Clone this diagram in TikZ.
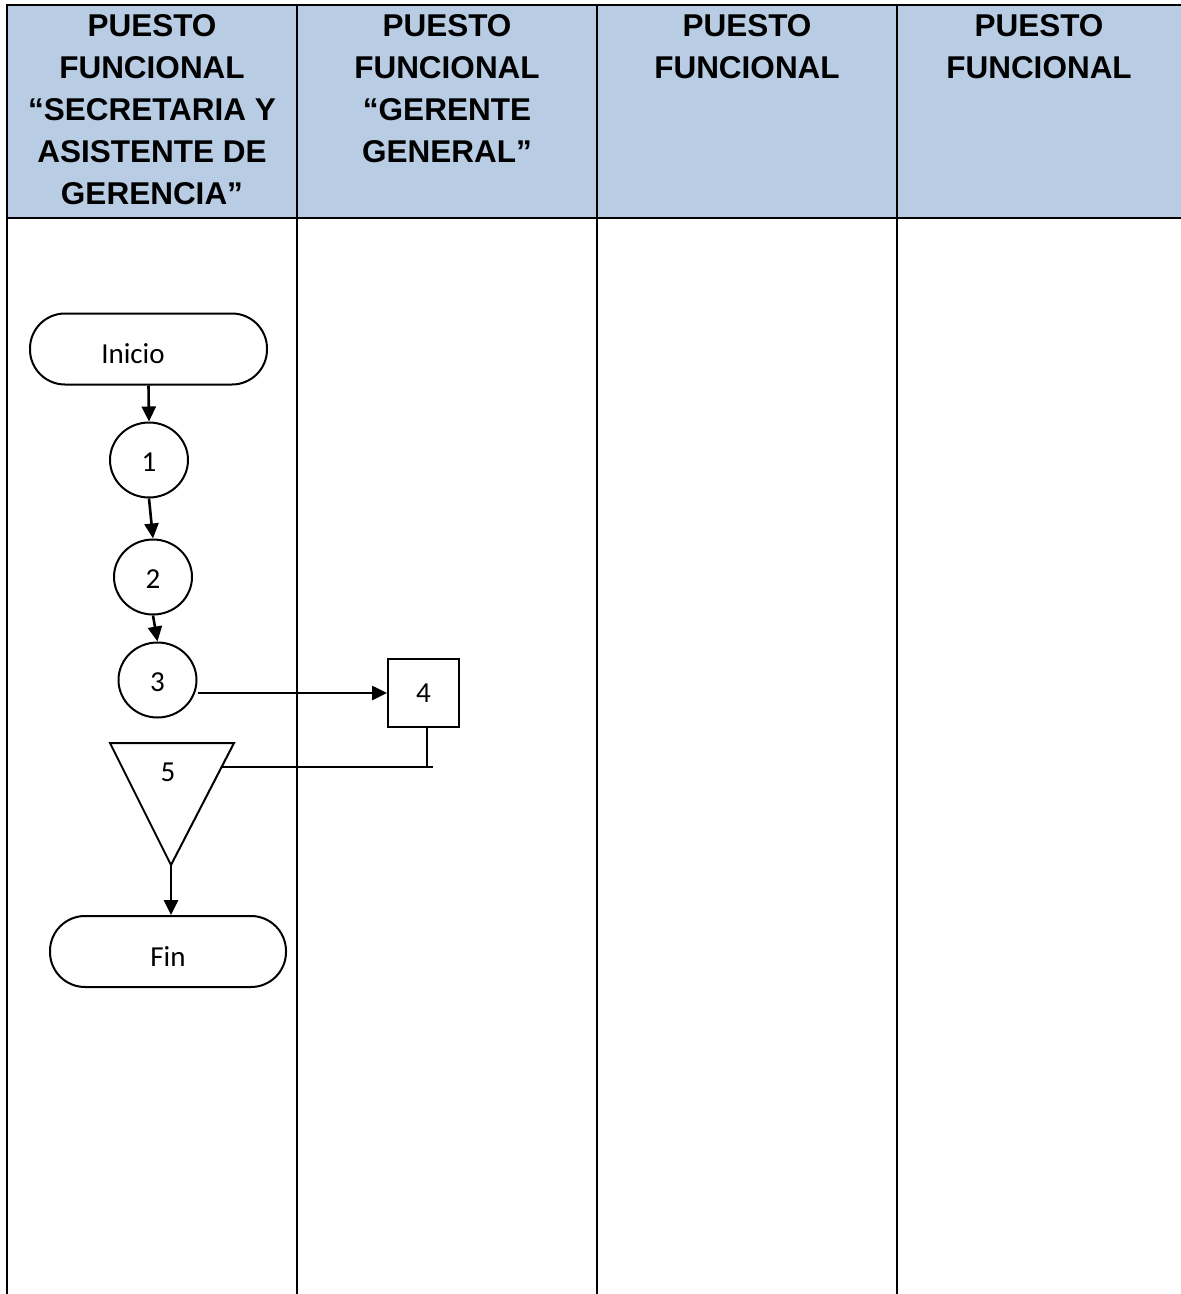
\documentclass[tikz,border=0pt]{standalone}
\usepackage{fontspec}
\setmainfont{Liberation Sans}
\newfontfamily\calfont{Carlito}
\usetikzlibrary{arrows.meta,shapes.geometric}
\definecolor{hdrblue}{RGB}{184,204,228}
\begin{document}
\begin{tikzpicture}[x=1pt,y=-1pt,
  tbl/.style={line width=2.8pt,black},
  hdr/.style={font=\fontsize{31.5}{42}\selectfont\bfseries,align=center,inner sep=0pt,anchor=north},
  shp/.style={draw,line width=2pt,font=\calfont\fontsize{29}{34}\selectfont},
  term/.style={shp,rectangle,rounded corners=35pt,minimum width=237pt,minimum height=71pt,text height=29pt,text depth=0pt},
  circ/.style={shp,ellipse,minimum width=78pt,minimum height=75pt,inner sep=0pt,text height=23pt,text depth=0pt},
  boxs/.style={shp,rectangle,minimum width=71pt,minimum height=68pt,inner sep=0pt},
  arr/.style={line width=2.6pt,-{Triangle[length=15pt,width=14pt]}},
  lin/.style={line width=2.6pt}
]
\useasboundingbox (0,0) rectangle (1181,1294);
% header band
\fill[hdrblue] (7,5) rectangle (1181,218);
% table lines
\draw[tbl] (7,1294) -- (7,5) -- (1181,5);
\draw[tbl] (7,218) -- (1181,218);
\draw[tbl] (297,5) -- (297,1294);
\draw[tbl] (597,5) -- (597,1294);
\draw[tbl] (897,5) -- (897,1294);
% header texts
\node[hdr] (h1) at (152,14) {PUESTO\\FUNCIONAL\\“SECRETARIA Y\\ASISTENTE DE\\GERENCIA”};
\node[hdr] (h2) at (447,14) {PUESTO\\FUNCIONAL\\“GERENTE\\GENERAL”};
\node[hdr] (h3) at (747,14) {PUESTO\\FUNCIONAL};
\node[hdr] (h4) at (1039,14) {PUESTO\\FUNCIONAL};
% flow shapes
\node[term] (inicio) at (148.5,349) {\hspace*{-31pt}Inicio};
\node[circ] (c1) at (149,460) {1};
\node[circ] (c2) at (153,577) {2};
\node[circ] (c3) at (157.5,680) {3};
\node[boxs] (b4) at (423.5,693) {4};
\coordinate (t5l) at (110,743);
\coordinate (t5r) at (234,743);
\coordinate (t5b) at (171,865);
\draw[line width=2pt,line join=miter] (t5l) -- (t5r) -- (t5b) -- cycle;
\node[font=\calfont\fontsize{29}{34}\selectfont] (t5) at (168,772) {5};
\node[term,minimum width=236pt] (fin) at (168,951.5) {Fin};
% connectors
\draw[arr] (inicio.south) -- (c1.north);
\draw[arr] (c1.south) -- (c2.north);
\draw[arr] (c2.south) -- (c3.north);
\draw[arr] (c3.east |- b4.west) -- (b4.west);
\coordinate (t5e) at (221.6,767);
\coordinate (m4) at (427,767);
\coordinate (m4e) at (433,767);
\draw[lin] (b4.south -| m4) -- (m4);
\draw[lin] (m4e) -- (t5e);
\draw[arr] (t5b) -- (t5b |- fin.north);
\end{tikzpicture}
\end{document}
